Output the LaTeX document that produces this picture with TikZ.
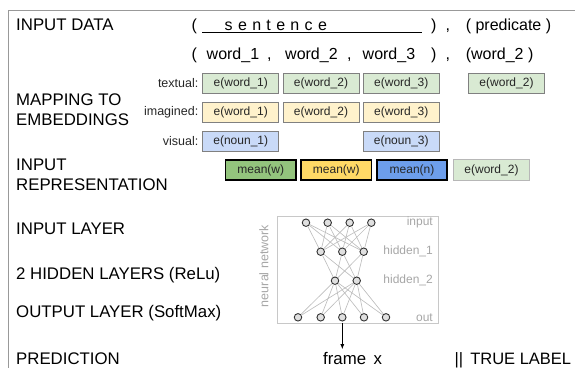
\documentclass[tikz,border=0pt]{standalone}
\usepackage{fontspec}
\setmainfont{Liberation Sans}
\usetikzlibrary{arrows.meta}
\definecolor{framegray}{HTML}{999999}
\definecolor{embdraw}{HTML}{808080}
\definecolor{txtfill}{HTML}{D9EAD3}
\definecolor{imgfill}{HTML}{FFF2CC}
\definecolor{visfill}{HTML}{C9DAF8}
\definecolor{meang}{HTML}{93C47D}
\definecolor{meany}{HTML}{FFD966}
\definecolor{meanb}{HTML}{6D9EEB}
\definecolor{lastdraw}{HTML}{B7B7B7}
\definecolor{nngray}{HTML}{A6A6A6}
\definecolor{nnedge}{HTML}{BDBDBD}
\definecolor{nnbox}{HTML}{C8C8C8}
\definecolor{nnfill}{HTML}{E0E0E0}
\begin{document}
\begin{tikzpicture}[x=1pt,y=-1pt,
  lab/.style={font=\fontsize{16.8}{20}\selectfont, inner sep=0pt, anchor=base west},
  mid/.style={font=\fontsize{16}{19}\selectfont, inner sep=0pt, anchor=base west},
  small/.style={font=\fontsize{12.5}{15}\selectfont, inner sep=0pt, anchor=east, text=black!85},
  emb/.style={draw=embdraw, line width=0.9pt, minimum width=76pt, minimum height=20pt, inner sep=0pt, font=\fontsize{12}{14}\selectfont, text=black!85},
  meanbox/.style={draw=black, line width=1.8pt, minimum width=70.5pt, minimum height=19.5pt, inner sep=0pt, font=\fontsize{12}{14}\selectfont, text=black!85},
  neuron/.style={circle, draw=black!80, fill=nnfill, line width=0.9pt, minimum size=7.5pt, inner sep=0pt},
  nnlink/.style={draw=nnedge, line width=0.65pt},
  nnlab/.style={font=\fontsize{12}{14}\selectfont, text=nngray, inner sep=0pt, anchor=east}
]
\useasboundingbox (0,0) rectangle (575,368);
% outer frame
\draw[framegray, line width=1pt] (575,10.5) -- (8.5,10.5) -- (8.5,368);

% left labels
\node[lab] (l1) at (16,30.5) {INPUT DATA};
\node[lab] (l2) at (16,105) {MAPPING TO};
\node[lab] (l3) at (16,125.5) {EMBEDDINGS};
\node[lab] (l4) at (16,170) {INPUT};
\node[lab] (l5) at (16,190) {REPRESENTATION};
\node[lab] (l6) at (16,234.3) {INPUT LAYER};
\node[lab] (l7) at (16,279.5) {2 HIDDEN LAYERS (ReLu)};
\node[lab] (l8) at (16,317.5) {OUTPUT LAYER (SoftMax)};
\node[lab] (l9) at (16,364.5) {PREDICTION};

% input data row 1
\node[mid] (r1a) at (191.5,30) {(};
\node[mid] (r1b) at (224.5,30) {s\,\,e\,\,n\,\,t\,\,e\,\,n\,\,c\,\,e};
\draw[black, line width=1.2pt] (202.3,32.2) -- (421.7,32.2);
\node[mid] (r1c) at (431,30) {)};
\node[mid] (r1d) at (445.3,30) {,};
\node[mid] (r1e) at (465.6,30) {( predicate )};
% row 2
\node[mid] (r2a) at (191.5,59.5) {(};
\node[mid] (r2b) at (206.5,59.5) {word\_1};
\node[mid] (r2c) at (267,59.5) {,};
\node[mid] (r2d) at (285,59.5) {word\_2};
\node[mid] (r2e) at (347,59.5) {,};
\node[mid] (r2f) at (362.5,59.5) {word\_3};
\node[mid] (r2g) at (431,59.5) {)};
\node[mid] (r2h) at (445.3,59.5) {,};
\node[mid] (r2i) at (465.6,59.5) {(word\_2 )};

% embedding labels
\node[small] (st) at (198.5,83) {textual:};
\node[small] (si) at (198.5,112) {imagined:};
\node[small] (sv) at (198.5,141) {visual:};

% textual
\node[emb, fill=txtfill] (t1) at (240.75,83) {e(word\_1)};
\node[emb, fill=txtfill] (t2) at (321,83) {e(word\_2)};
\node[emb, fill=txtfill] (t3) at (401.25,83) {e(word\_3)};
\node[emb, fill=txtfill] (t4) at (506.5,83) {e(word\_2)};
% imagined
\node[emb, fill=imgfill] (i1) at (240.75,112) {e(word\_1)};
\node[emb, fill=imgfill] (i2) at (321,112) {e(word\_2)};
\node[emb, fill=imgfill] (i3) at (401.25,112) {e(word\_3)};
% visual
\node[emb, fill=visfill] (v1) at (240.75,141) {e(noun\_1)};
\node[emb, fill=visfill] (v3) at (401.25,141) {e(noun\_3)};
% input representation
\node[meanbox, fill=meang] (m1) at (260.75,170) {mean(w)};
\node[meanbox, fill=meany] (m2) at (336.25,170) {mean(w)};
\node[meanbox, fill=meanb] (m3) at (412,170) {mean(n)};
\node[emb, draw=lastdraw, fill=txtfill, minimum height=20.5pt] (m4) at (491.5,170) {e(word\_2)};

% neural network
\node[draw=nnbox, line width=0.9pt, minimum width=161pt, minimum height=107pt, inner sep=0pt] (nn) at (357.5,269.5) {};
\node[font=\fontsize{12.5}{14}\selectfont, text=nngray, rotate=90, inner sep=0pt] (nnname) at (264,266) {neural network};
\node[nnlab] (lin) at (433,222.7) {input};
\node[nnlab] (lh1) at (433,251.7) {hidden\_1};
\node[nnlab] (lh2) at (433,280.7) {hidden\_2};
\node[nnlab] (lout) at (433,317.3) {out};

\foreach \n/\x in {1/306,2/327.7,3/349.7,4/371.3} \node[neuron] (i\n) at (\x,222.7) {};
\foreach \n/\x in {1/320.7,2/342.3,3/363.7} \node[neuron] (a\n) at (\x,251.7) {};
\foreach \n/\x in {1/335,2/356.7} \node[neuron] (b\n) at (\x,280.7) {};
\foreach \n/\x in {1/298,2/320.7,3/342.3,4/364,5/386} \node[neuron] (o\n) at (\x,317.3) {};

\foreach \p in {1,...,4} \foreach \q in {1,...,3} \draw[nnlink] (i\p) -- (a\q);
\foreach \p in {1,...,3} \foreach \q in {1,2} \draw[nnlink] (a\p) -- (b\q);
\foreach \p in {1,2} \foreach \q in {1,...,5} \draw[nnlink] (b\p) -- (o\q);

% prediction
\node[lab] (fx) at (323,364.5) {frame\hspace{7.5pt}x};
\node[lab, font=\fontsize{16.5}{20}\selectfont] (tl) at (454.5,364.5) {||\hspace{7pt}TRUE LABEL};
\draw[black, line width=0.8pt, -{Latex[length=5pt,width=4pt]}, shorten >=3pt] (o3 |- nn.south) -- (o3 |- fx.north);
\end{tikzpicture}
\end{document}
